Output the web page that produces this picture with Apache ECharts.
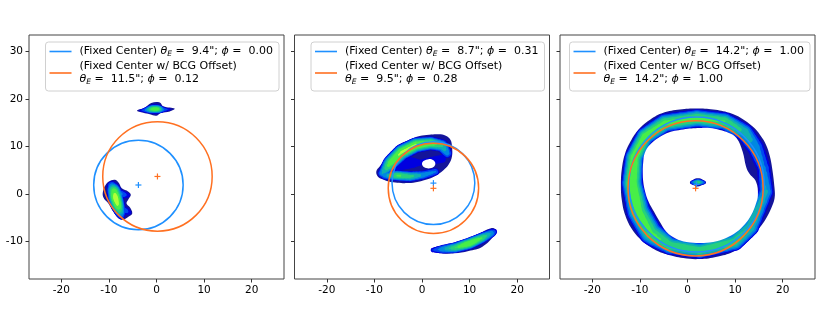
<!DOCTYPE html>
<html>
<head>
<meta charset="utf-8">
<script src="https://cdn.jsdelivr.net/npm/echarts@6/dist/echarts.min.js"></script>
<style>
html, body { margin: 0; padding: 0; background: #fff; }
#chart { width: 830px; height: 329px; }
</style>
</head>
<body>
<div id="chart"></div>
<script>
// fitted circles, one entry per panel
const thetaFixed = [9.4, 8.7, 14.2];
const phiFixed = ['0.00', '0.31', '1.00'];
const thetaOffset = [11.5, 9.5, 14.2];
const phiOffset = ['0.12', '0.28', '1.00'];
const centerFixed = [[-3.8, 1.9], [2.4, 2.3], [1.9, 2.0]];
const centerOffset = [[0.2, 3.7], [2.4, 1.2], [1.7, 1.2]];

const xTicks = [-20, -10, 0, 10, 20];
const yTicks = [-10, 0, 10, 20, 30];

// arc images: edge = outline [x, y], ridge = [x, y, half width, peak level]
const p1TopEdge = [[-4.1, 17.6], [-2.5, 18.2], [-1.1, 19.2], [0.7, 19.3], [1.4, 18.5], [3.8, 18.0], [2.8, 17.4], [1.0, 17.1], [0.0, 16.5], [-1.4, 16.8], [-2.8, 17.1]];
const p1TopRidge = [[-3.4, 17.6, 0.3, 0.15], [-2.2, 17.7, 0.6, 0.35], [-0.8, 17.9, 1.0, 0.8], [0.2, 17.9, 1.0, 0.8], [1.3, 17.8, 0.6, 0.35], [2.8, 17.8, 0.3, 0.15]];
const p1MainEdge = [[-10.1, 2.6], [-8.7, 3.0], [-7.9, 2.3], [-7.3, 1.2], [-5.9, 0.5], [-5.4, -0.2], [-5.9, -1.1], [-6.3, -2.0], [-5.6, -2.8], [-5.1, -4.1], [-5.9, -4.8], [-7.0, -5.4], [-8.0, -5.1], [-9.1, -3.7], [-10.1, -2.0], [-11.2, -0.6], [-11.2, 0.8], [-10.7, 1.9]];
const p1MainRidge = [[-9.4, 1.8, 1.0, 0.35], [-8.9, 0.6, 1.6, 0.8], [-8.6, -0.8, 1.7, 0.95], [-8.2, -2.2, 1.6, 0.88], [-7.7, -3.6, 1.3, 0.6], [-7.4, -4.6, 0.8, 0.3]];
const p1UpperLobe = [[-8.4, 0.3, 1.0, 0.5], [-7.0, -0.1, 0.9, 0.3], [-6.0, -0.3, 0.6, 0.15]];
const p1LowerLobe = [[-7.9, -3.2, 1.0, 0.45], [-6.6, -3.5, 0.9, 0.3], [-5.7, -3.9, 0.6, 0.15]];

const p2ArcEdge = [[-9.6, 4.8], [-8.9, 5.8], [-7.5, 7.6], [-6.1, 9.3], [-4.5, 10.6], [-2.7, 11.4], [-0.5, 12.2], [1.5, 12.5], [3.5, 12.6], [5.0, 12.3], [6.0, 11.4], [6.3, 10.0], [6.3, 7.9], [5.6, 6.2], [4.5, 5.0], [2.8, 3.8], [0.8, 3.0], [-1.3, 2.5], [-3.3, 2.3], [-5.2, 2.4], [-6.8, 2.6], [-8.3, 3.1], [-9.3, 3.7]];
const p2ArcHole = [[0.0, 6.4], [0.4, 7.0], [1.4, 7.35], [2.4, 7.1], [2.8, 6.4], [2.4, 5.7], [1.4, 5.4], [0.4, 5.7]];
const p2ArcRidgeTop = [[-8.3, 4.4, 1.0, 0.45], [-6.6, 6.6, 1.7, 0.8], [-4.3, 8.8, 1.8, 0.88], [-1.3, 10.3, 1.7, 0.88], [1.8, 10.7, 1.5, 0.8], [4.2, 10.2, 1.4, 0.6], [5.3, 8.6, 1.1, 0.4]];
const p2ArcRidgeBottom = [[-7.8, 3.9, 0.9, 0.4], [-5.2, 3.9, 1.2, 0.75], [-2.6, 3.7, 1.2, 0.65], [0.2, 4.0, 1.0, 0.45], [2.8, 4.7, 0.9, 0.35]];
const p2ArcFill = [[-5.5, 6.0, 1.6, 0.2], [-2.5, 6.6, 1.8, 0.18], [-0.6, 6.6, 1.0, 0.14], [4.2, 7.4, 1.2, 0.2]];
const p2LowEdge = [[1.9, -11.7], [3.5, -11.0], [6.8, -10.4], [9.5, -9.4], [12.0, -8.3], [14.5, -7.2], [15.5, -7.5], [15.3, -8.6], [12.7, -11.1], [9.8, -12.0], [6.8, -12.5], [3.5, -12.4]];
const p2LowRidge = [[2.3, -11.8, 0.6, 0.2], [4.5, -11.6, 1.0, 0.45], [7.0, -11.3, 1.2, 0.7], [10.0, -10.4, 1.3, 0.88], [12.5, -9.3, 1.2, 0.72], [14.5, -8.3, 1.0, 0.45], [15.3, -7.9, 0.6, 0.2]];

const p3RingEdge = [[1.9, 18.0], [-1.6, 17.8], [-5.1, 17.1], [-7.8, 15.7], [-10.0, 13.9], [-11.8, 11.4], [-13.1, 8.6], [-13.8, 5.3], [-14.0, 1.9], [-13.8, -1.3], [-13.1, -4.4], [-11.8, -7.2], [-10.0, -9.4], [-7.4, -11.4], [-4.4, -12.7], [-0.9, -13.5], [2.6, -13.7], [6.2, -13.2], [9.5, -12.2], [12.3, -10.3], [14.4, -8.0], [16.3, -5.5], [17.6, -3.0], [18.3, -0.9], [18.3, 1.2], [17.8, 5.4], [17.3, 8.0], [16.5, 10.4], [15.3, 12.4], [13.7, 14.2], [11.4, 15.9], [8.8, 17.1], [5.4, 17.8]];
const p3RingHole = [[2.6, 13.9], [-0.9, 13.6], [-4.4, 12.8], [-7.9, 10.4], [-9.0, 8.6], [-9.3, 6.8], [-9.4, 4.7], [-9.3, 2.6], [-8.9, 0.5], [-8.2, -1.6], [-7.0, -3.8], [-5.8, -5.9], [-4.4, -8.0], [-2.4, -9.4], [-0.2, -10.1], [2.6, -10.3], [5.4, -10.1], [8.0, -9.3], [10.3, -8.0], [12.1, -6.3], [13.4, -4.4], [14.3, -2.3], [14.8, -0.2], [14.4, 2.6], [13.0, 4.3], [12.3, 5.8], [11.6, 8.9], [10.3, 11.8], [8.6, 12.9], [6.8, 13.5], [4.7, 13.9]];
const p3RingRidge = [[2.0, 15.95, 2.0, 0.76], [-4.75, 14.95, 2.1, 0.76], [-8.95, 12.15, 2.0, 0.8], [-11.2, 7.7, 2.1, 0.82], [-11.65, 2.25, 2.35, 0.86], [-10.3, -3.7, 2.7, 0.78], [-7.75, -8.2, 2.7, 0.74], [-3.7, -10.85, 2.0, 0.7], [2.6, -11.9, 1.8, 0.7], [9.9, -10.1, 2.0, 0.68], [13.2, -7.0, 2.0, 0.6], [16.5, 0.5, 1.7, 0.5], [16.0, 5.5, 1.6, 0.36], [14.3, 9.8, 2.0, 0.42], [12.0, 13.0, 2.0, 0.58], [7.8, 15.3, 2.0, 0.72], [2.0, 15.95, 2.0, 0.76]];
const p3CoreEdge = [[0.5, 2.4], [1.2, 3.0], [2.2, 3.3], [3.2, 3.0], [3.9, 2.4], [3.1, 1.9], [2.2, 1.6], [1.2, 1.9]];
const p3CoreRidge = [[1.0, 2.45, 0.45, 0.3], [2.2, 2.5, 0.75, 0.7], [3.4, 2.45, 0.45, 0.3]];

const panelArcs = [
  [
    { edge: p1TopEdge, ridges: [p1TopRidge], holes: [] },
    { edge: p1MainEdge, ridges: [p1UpperLobe, p1LowerLobe, p1MainRidge], holes: [] }
  ],
  [
    { edge: p2ArcEdge, ridges: [p2ArcFill, p2ArcRidgeBottom, p2ArcRidgeTop], holes: [p2ArcHole] },
    { edge: p2LowEdge, ridges: [p2LowRidge], holes: [] }
  ],
  [
    { edge: p3RingEdge, ridges: [p3RingRidge], holes: [p3RingHole] },
    { edge: p3CoreEdge, ridges: [p3CoreRidge], holes: [] }
  ]
];

// jet-like ramp, low -> high
const layerLevels = [0.0, 0.1, 0.22, 0.35, 0.48, 0.6, 0.72, 0.86];
const layerColors = ['#14149a', '#0000e0', '#0048f0', '#0088e0', '#10b0b0', '#26d07e', '#48ee48', '#b0ff3a'];

const BLUE = '#1e90ff';
const ORANGE = '#ff7021';
const lefts = [29, 294.5, 560];

function renderArcs(arcs) {
  return function (params, api) {
    const arc = arcs[params.dataIndex];
    const pt = p => api.coord([p[0], p[1]]);
    const unit = api.size([1, 0])[0];
    const children = [{
      type: 'polygon',
      shape: { points: arc.edge.map(pt), smooth: 0.4 },
      style: { fill: layerColors[0] }
    }];
    layerLevels.forEach((t, k) => {
      if (k === 0) return;
      arc.ridges.forEach(r => {
        for (let i = 0; i < r.length - 1; i++) {
          const a = r[i], b = r[i + 1];
          const steps = 4;
          for (let s = 0; s < steps; s++) {
            const f0 = s / steps, f1 = (s + 1) / steps, fm = (f0 + f1) / 2;
            const pk = a[3] + (b[3] - a[3]) * fm;
            const hw = a[2] + (b[2] - a[2]) * fm;
            if (pk <= t) continue;
            const p0 = pt([a[0] + (b[0] - a[0]) * f0, a[1] + (b[1] - a[1]) * f0]);
            const p1 = pt([a[0] + (b[0] - a[0]) * f1, a[1] + (b[1] - a[1]) * f1]);
            children.push({
              type: 'line',
              shape: { x1: p0[0], y1: p0[1], x2: p1[0], y2: p1[1] },
              style: { stroke: layerColors[k], lineWidth: 2 * hw * Math.pow(1 - t / pk, 0.5) * unit, lineCap: 'round' }
            });
          }
        }
      });
    });
    arc.holes.forEach(h => {
      children.push({ type: 'polygon', shape: { points: h.map(pt), smooth: 0.4 }, style: { fill: '#fff' } });
    });
    return { type: 'group', children: children };
  };
}

function renderCircle(color) {
  return function (params, api) {
    const c = api.coord([api.value(0), api.value(1)]);
    const r = api.size([api.value(2), 0])[0];
    return {
      type: 'group',
      children: [
        { type: 'circle', shape: { cx: c[0], cy: c[1], r: r }, style: { fill: 'none', stroke: color, lineWidth: 1.5 } },
        { type: 'line', shape: { x1: c[0] - 3, y1: c[1], x2: c[0] + 3, y2: c[1] }, style: { stroke: color, lineWidth: 1.2 } },
        { type: 'line', shape: { x1: c[0], y1: c[1] - 3, x2: c[0], y2: c[1] + 3 }, style: { stroke: color, lineWidth: 1.2 } }
      ]
    };
  };
}

const legendText = {};
const grids = [], xAxes = [], yAxes = [], legends = [], series = [];
for (let i = 0; i < 3; i++) {
  const nFixed = 'fixed' + i, nOffset = 'offset' + i;
  legendText[nFixed] = '(Fixed Center) {m|θ}{s|E} =  ' + thetaFixed[i] + '"; {m|ϕ} =  ' + phiFixed[i];
  legendText[nOffset] = '(Fixed Center w/ BCG Offset)\n{m|θ}{s|E} =  ' + thetaOffset[i] + '"; {m|ϕ} =  ' + phiOffset[i];

  grids.push({ left: lefts[i], top: 35, width: 255, height: 244, show: true, borderColor: '#444', borderWidth: 1, backgroundColor: 'transparent' });
  xAxes.push({
    gridIndex: i, type: 'value', min: -26.8, max: 26.8, position: 'bottom',
    axisLine: { show: false, onZero: false }, splitLine: { show: false },
    axisTick: { show: true, length: 3.5, lineStyle: { color: '#333' }, customValues: xTicks },
    axisLabel: { customValues: xTicks, fontSize: 10.5, color: '#000', fontFamily: 'DejaVu Sans', margin: 6 }
  });
  yAxes.push({
    gridIndex: i, type: 'value', min: -17.9, max: 33.5, position: 'left',
    axisLine: { show: false, onZero: false }, splitLine: { show: false },
    axisTick: { show: true, length: 3.5, lineStyle: { color: '#333' }, customValues: yTicks },
    axisLabel: { show: i === 0, customValues: yTicks, fontSize: 10.5, color: '#000', fontFamily: 'DejaVu Sans', margin: 6 }
  });
  legends.push({
    data: [
      { name: nFixed, itemStyle: { color: BLUE } },
      { name: nOffset, itemStyle: { color: ORANGE } }
    ],
    orient: 'vertical', right: 830 - lefts[i] - 250, top: 42,
    selectedMode: false, icon: 'rect', itemWidth: 22, itemHeight: 1.6, itemGap: 2,
    padding: [3, 6, 5, 4],
    backgroundColor: 'rgba(255,255,255,0.8)', borderColor: '#d0d0d0', borderWidth: 1, borderRadius: 3,
    formatter: name => legendText[name],
    textStyle: {
      fontFamily: 'DejaVu Sans', fontSize: 11, color: '#000', lineHeight: 13, padding: [0, 0, 0, 3],
      rich: {
        m: { fontFamily: 'DejaVu Sans', fontStyle: 'italic', fontSize: 11, lineHeight: 13 },
        s: { fontFamily: 'DejaVu Sans', fontStyle: 'italic', fontSize: 7.5, lineHeight: 13, verticalAlign: 'bottom' }
      }
    }
  });
  series.push({
    type: 'custom', name: 'arcs' + i, xAxisIndex: i, yAxisIndex: i, silent: true,
    renderItem: renderArcs(panelArcs[i]),
    data: panelArcs[i].map((a, k) => [k])
  });
  series.push({
    type: 'custom', name: nFixed, xAxisIndex: i, yAxisIndex: i, silent: true,
    itemStyle: { color: BLUE },
    renderItem: renderCircle(BLUE),
    data: [[centerFixed[i][0], centerFixed[i][1], thetaFixed[i]]]
  });
  series.push({
    type: 'custom', name: nOffset, xAxisIndex: i, yAxisIndex: i, silent: true,
    itemStyle: { color: ORANGE },
    renderItem: renderCircle(ORANGE),
    data: [[centerOffset[i][0], centerOffset[i][1], thetaOffset[i]]]
  });
}

const chart = echarts.init(document.getElementById('chart'));
chart.setOption({
  animation: false,
  backgroundColor: '#fff',
  grid: grids,
  xAxis: xAxes,
  yAxis: yAxes,
  legend: legends,
  series: series
});
</script>
</body>
</html>
